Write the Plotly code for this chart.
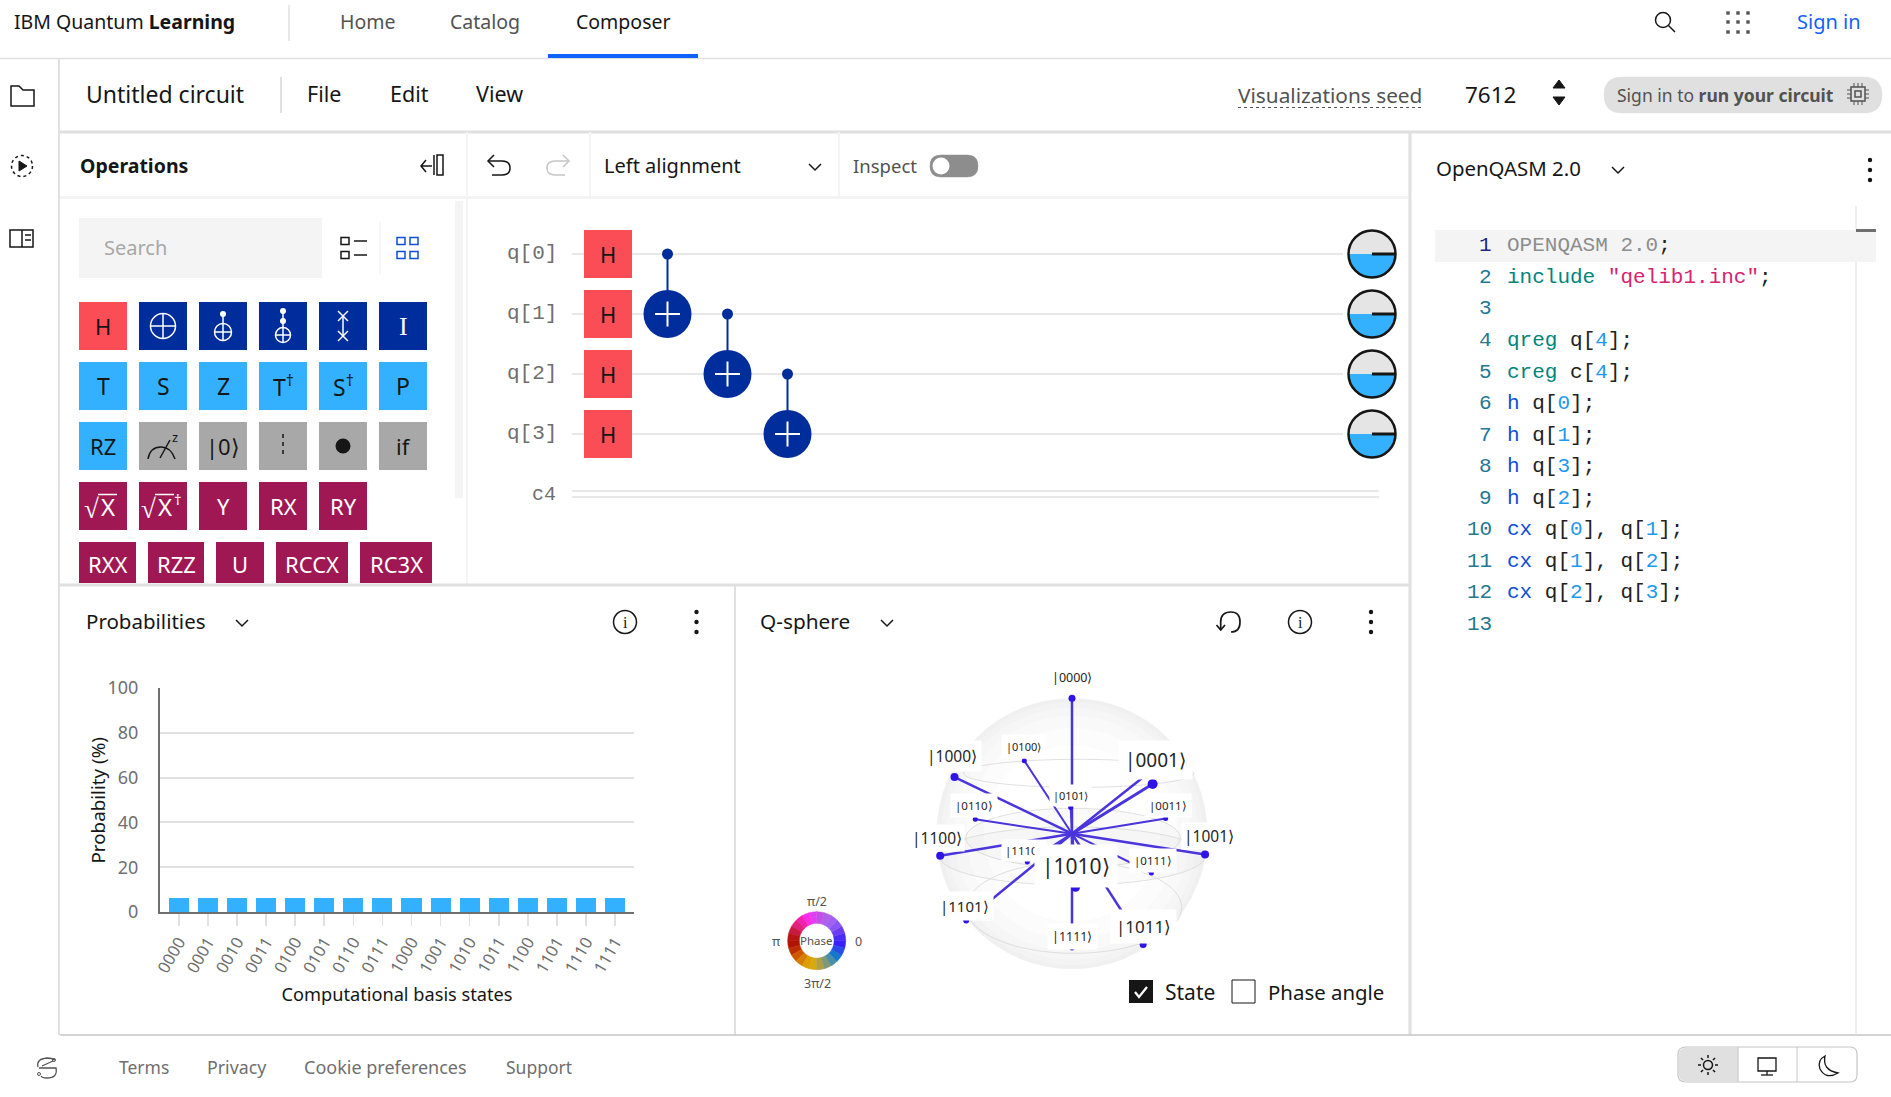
import numpy as np
import plotly.graph_objects as go

W, H = 1891, 1097
SANS = "Noto Sans"
MONO = "Liberation Mono"

# bar chart data
states = ["0000", "0001", "0010", "0011", "0100", "0101", "0110", "0111",
          "1000", "1001", "1010", "1011", "1100", "1101", "1110", "1111"]
probabilities = [6.25] * 16
y_ticks = [0, 20, 40, 60, 80, 100]

# q-sphere points, later states are drawn over earlier ones
qs_states = ["0000", "1000", "0100", "0010", "0001", "0101", "0110", "0011", "1100",
             "1001", "1110", "0111", "1101", "1111", "1011", "1010"]
qs_x = [0, -0.867, -0.352, 0.576, 0.595, -0.01, -0.714, 0.691, -0.973,
        0.982, -0.33, 0.586, -0.781, 0, 0.525, 0.026]
qs_y = [1.0, 0.418, 0.539, 0.457, 0.367, 0.194, 0.106, 0.113, -0.162,
        -0.153, -0.209, -0.29, -0.64, -0.844, -0.817, -0.396]

# phase wheel colours, counterclockwise from phase 0
phase_colors = ["#3a1fff", "#4a2af5", "#6a3cf0", "#8a55f0", "#a060f0", "#b060e8",
                "#c050e8", "#e040f0", "#fa2ce8", "#f020b0", "#e0207a", "#c81a40",
                "#b81414", "#b01400", "#bc3000", "#cc5800", "#d67e00", "#dc9e00",
                "#d8a80c", "#b0a040", "#809a78", "#4a8ea8", "#1478cc", "#2a4ce6"]

# circuit
qubits = ["q[0]", "q[1]", "q[2]", "q[3]"]
cnot_controls = [0, 1, 2]

# code panel
C_KW, C_OP, C_NUM, C_STR, C_TXT, C_OFF = "#00857c", "#0f4fd8", "#1e9af0", "#d6246e", "#222222", "#8d8d8d"
code_lines = [
    [("OPENQASM 2.0", C_OFF), (";", C_TXT)],
    [("include", C_KW), (" ", C_TXT), ('"qelib1.inc"', C_STR), (";", C_TXT)],
    [],
    [("qreg", C_KW), (" q[", C_TXT), ("4", C_NUM), ("];", C_TXT)],
    [("creg", C_KW), (" c[", C_TXT), ("4", C_NUM), ("];", C_TXT)],
    [("h", C_OP), (" q[", C_TXT), ("0", C_NUM), ("];", C_TXT)],
    [("h", C_OP), (" q[", C_TXT), ("1", C_NUM), ("];", C_TXT)],
    [("h", C_OP), (" q[", C_TXT), ("3", C_NUM), ("];", C_TXT)],
    [("h", C_OP), (" q[", C_TXT), ("2", C_NUM), ("];", C_TXT)],
    [("cx", C_OP), (" q[", C_TXT), ("0", C_NUM), ("], q[", C_TXT), ("1", C_NUM), ("];", C_TXT)],
    [("cx", C_OP), (" q[", C_TXT), ("1", C_NUM), ("], q[", C_TXT), ("2", C_NUM), ("];", C_TXT)],
    [("cx", C_OP), (" q[", C_TXT), ("2", C_NUM), ("], q[", C_TXT), ("3", C_NUM), ("];", C_TXT)],
    [],
]

RED, NAVY, SKY, GREY, WINE = "#fa4d56", "#002d9c", "#33b1ff", "#a8a8a8", "#9f1853"
BORDER = "#e0e0e0"
QS_SPAN = 1.4  # q-sphere axis half range, leaves room for the outer labels

shapes, notes = [], []


def rect(x0, y0, x1, y1, fill=None, line=None, w=1):
    shapes.append(dict(type="rect", xref="x2", yref="y2", x0=x0, y0=y0, x1=x1, y1=y1,
                       fillcolor=fill or "rgba(0,0,0,0)",
                       line=dict(color=line or "rgba(0,0,0,0)", width=w if line else 0)))


def seg(x0, y0, x1, y1, color=BORDER, w=2, dash=None):
    shapes.append(dict(type="line", xref="x2", yref="y2", x0=x0, y0=y0, x1=x1, y1=y1,
                       line=dict(color=color, width=w, dash=dash)))


def circ(cx, cy, r, fill=None, line=None, w=1.5, dash=None):
    shapes.append(dict(type="circle", xref="x2", yref="y2", x0=cx - r, y0=cy - r, x1=cx + r, y1=cy + r,
                       fillcolor=fill or "rgba(0,0,0,0)",
                       line=dict(color=line or "rgba(0,0,0,0)", width=w if line else 0, dash=dash)))


def path(d, color="#161616", w=1.5, fill=None):
    shapes.append(dict(type="path", xref="x2", yref="y2", path=d,
                       fillcolor=fill or "rgba(0,0,0,0)",
                       line=dict(color=color, width=w)))


def text(x, y, s, size=18, color="#161616", anchor="left", font=SANS, angle=0):
    notes.append(dict(xref="x2", yref="y2", x=x, y=y, text=s, showarrow=False,
                      xanchor=anchor, yanchor="middle", textangle=angle,
                      font=dict(family=font, size=size, color=color)))


def chevron(cx, cy, s=6, color="#161616"):
    path(f"M{cx - s} {cy - s / 2} L{cx} {cy + s / 2} L{cx + s} {cy - s / 2}", color, 1.5)


def kebab(cx, cy):
    for d in (-10, 0, 10):
        circ(cx, cy + d, 2.2, fill="#161616")


def info(cx, cy):
    circ(cx, cy, 11.5, line="#161616", w=1.5)
    text(cx, cy, "i", 16, font="Liberation Serif", anchor="center")


def undo(cx, cy, color="#161616", flip=1):
    f = flip
    path(f"M{cx - 10 * f} {cy - 5} L{cx + 3 * f} {cy - 5} Q{cx + 11 * f} {cy - 5} {cx + 11 * f} {cy + 2} "
         f"Q{cx + 11 * f} {cy + 9} {cx + 3 * f} {cy + 9} L{cx - 7 * f} {cy + 9}", color, 1.5)
    path(f"M{cx - 5 * f} {cy - 11} L{cx - 11 * f} {cy - 5} L{cx - 5 * f} {cy + 1}", color, 1.5)


def half_disc(cx, cy, r, upper, fill):
    t = np.linspace(0, np.pi, 40)
    sgn = -1 if upper else 1
    pts = [f"{cx + r * np.cos(a):.2f} {cy + sgn * r * np.sin(a):.2f}" for a in t]
    shapes.append(dict(type="path", xref="x2", yref="y2", path="M" + " L".join(pts) + " Z",
                       fillcolor=fill, line=dict(width=0)))


def plus_circle(cx, cy, r, fg="#ffffff", w=1.5):
    circ(cx, cy, r, line=fg, w=w)
    seg(cx - r, cy, cx + r, cy, fg, w)
    seg(cx, cy - r, cx, cy + r, fg, w)


# page frame
seg(0, 58.5, W, 58.5, BORDER, 1.5)
seg(59, 58, 59, 1035, BORDER, 2)
seg(60, 132, W, 132, BORDER, 3)
seg(60, 197.5, 1410, 197.5, "#f4f4f4", 3)
seg(467, 132, 467, 584, "#f4f4f4", 2)
seg(590, 132, 590, 197, "#f4f4f4", 2)
seg(839, 132, 839, 197, "#f4f4f4", 2)
seg(1410, 132, 1410, 1035, BORDER, 3)
seg(60, 585, 1410, 585, BORDER, 3)
seg(735, 585, 735, 1035, BORDER, 2)
seg(60, 1035, W, 1035, "#c6c6c6", 1.5)
seg(1856, 206, 1856, 1035, BORDER, 1)

# top header
text(12, 21.5, "IBM Quantum <b>Learning</b>", 19.5)
seg(289, 5, 289, 41, BORDER, 1.5)
text(367, 21.5, "Home", 19.5, "#525252", "center")
text(485, 21.5, "Catalog", 19.5, "#525252", "center")
text(623, 21.5, "Composer", 19.5, "#161616", "center")
rect(548, 54, 698, 58, fill="#0f62fe")
circ(1663, 20, 7.5, line="#161616", w=1.5)
seg(1668.5, 25.5, 1675, 32, "#161616", 1.5)
for gx in (1728, 1738, 1748):
    for gy in (13, 22, 32):
        rect(gx - 1.7, gy - 1.7, gx + 1.7, gy + 1.7, fill="#525252")
text(1829, 21.5, "Sign in", 20, "#0f62fe", "center")

# toolbar
text(84, 93.5, "Untitled circuit", 23)
seg(281, 77, 281, 113, BORDER, 2)
text(324, 93.5, "File", 21.5, anchor="center")
text(409, 93.5, "Edit", 21.5, anchor="center")
text(499, 93.5, "View", 21.5, anchor="center")
text(1330, 95, "Visualizations seed", 20.8, "#525252", "center")
seg(1238, 107.5, 1423, 107.5, "#525252", 1, "dot")
text(1490, 94, "7612", 22.5, anchor="center")
path("M1553 88 L1565 88 L1559 80 Z", "#161616", 1, "#161616")
path("M1553 97 L1565 97 L1559 105 Z", "#161616", 1, "#161616")
path("M1622 77 L1864 77 Q1882 77 1882 95 Q1882 113 1864 113 L1622 113 Q1604 113 1604 95 Q1604 77 1622 77 Z",
     BORDER, 0.5, BORDER)
text(1615, 94.5, "Sign in to <b>run your circuit</b>", 17.5, "#525252")
for d in (-4, 0, 4):
    seg(1847, 94 + d, 1869, 94 + d, "#525252", 1)
    seg(1858 + d, 83, 1858 + d, 105, "#525252", 1)
rect(1851, 87, 1865, 101, fill=BORDER, line="#525252", w=1.5)
rect(1855, 91, 1861, 97, line="#525252", w=1.5)

# side icons
path("M11 103 L11 86 L19 86 L23 90 L34 90 L34 106 L11 106 Z", "#161616", 1.5)
circ(22, 166, 10.5, line="#161616", w=1.5, dash="3px,3px")
path("M19 161 L27 166 L19 171 Z", "#161616", 1, "#161616")
path("M10 230 L33 230 L33 247 L10 247 Z M22 230 L22 247 M25 235 L31 235 M25 240 L31 240", "#161616", 1.5)

# operations panel
text(78, 165, "<b>Operations</b>", 19.5)
path("M421 166 L432 166 M426 160 L421 166 L426 172", "#161616", 1.5)
seg(434, 155, 434, 175, "#161616", 1.5)
rect(437, 155, 443, 175, line="#161616", w=1.5)
rect(79, 218, 322, 278, fill="#f4f4f4")
text(102, 247, "Search", 20, "#a8a8a8")
for iy in (241, 255):
    rect(341, iy - 3.5, 349, iy + 3.5, line="#161616", w=1.5)
    seg(354, iy, 367, iy, "#161616", 1.5)
seg(380, 222, 380, 274, "#f4f4f4", 1.5)
for ix in (401, 414):
    for iy in (241, 255):
        rect(ix - 4, iy - 3.5, ix + 4, iy + 3.5, line="#0f4fd8", w=1.5)
rect(455, 201, 463, 498, fill="#f4f4f4")


def gate(col, row, color):
    x, y = 79 + col * 60, 302 + row * 60
    rect(x, y, x + 48, y + 48, fill=color)
    return x + 24, y + 24


cx, cy = gate(0, 0, RED)
text(cx, cy, "H", 22, anchor="center")
cx, cy = gate(1, 0, NAVY)
plus_circle(cx, cy, 12.5)
cx, cy = gate(2, 0, NAVY)
plus_circle(cx, cy + 6, 8.5)
circ(cx, cy - 12, 3, fill="#ffffff")
seg(cx, cy - 12, cx, cy - 2, "#ffffff", 1.5)
cx, cy = gate(3, 0, NAVY)
plus_circle(cx, cy + 9, 7.5)
circ(cx, cy - 15, 3, fill="#ffffff")
circ(cx, cy - 5, 3, fill="#ffffff")
seg(cx, cy - 15, cx, cy + 1, "#ffffff", 1.5)
cx, cy = gate(4, 0, NAVY)
for sy in (-10, 10):
    seg(cx - 5, cy + sy - 5, cx + 5, cy + sy + 5, "#ffffff", 1.5)
    seg(cx - 5, cy + sy + 5, cx + 5, cy + sy - 5, "#ffffff", 1.5)
seg(cx, cy - 10, cx, cy + 10, "#ffffff", 1.5)
cx, cy = gate(5, 0, NAVY)
text(cx, cy, "I", 26, "#ffffff", "center", "Liberation Serif")

for col, lab in enumerate(["T", "S", "Z", "T<sup>†</sup>", "S<sup>†</sup>", "P"]):
    cx, cy = gate(col, 1, SKY)
    text(cx, cy, lab, 23, anchor="center")
cx, cy = gate(0, 2, SKY)
text(cx, cy, "RZ", 22, anchor="center")
cx, cy = gate(1, 2, GREY)
path(f"M{cx - 15} {cy + 13} Q{cx - 13} {cy + 1} {cx - 2} {cy + 1} Q{cx + 8} {cy + 1} {cx + 12} {cy + 13}", "#161616", 1.5)
seg(cx - 3, cy + 12, cx + 7, cy - 6, "#161616", 1.5)
text(cx + 12, cy - 9, "z", 13, anchor="center")
cx, cy = gate(2, 2, GREY)
text(cx, cy, "|0⟩", 22, anchor="center")
cx, cy = gate(3, 2, GREY)
seg(cx, cy - 12, cx, cy + 12, "#161616", 1.5, "4px,4px")
cx, cy = gate(4, 2, GREY)
circ(cx, cy, 7.5, fill="#161616")
cx, cy = gate(5, 2, GREY)
text(cx, cy, "if", 22, anchor="center")
for col, lab in enumerate(["", "", "Y", "RX", "RY"]):
    cx, cy = gate(col, 3, WINE)
    if lab:
        text(cx, cy, lab, 22, "#ffffff", "center")
text(91.5, 507, "√", 27, "#ffffff", "center")
text(107.5, 506.5, "X", 24, "#ffffff", "center")
seg(98, 494.5, 117, 494.5, "#ffffff", 1.5)
text(148.5, 507, "√", 27, "#ffffff", "center")
text(165, 506.5, "X", 24, "#ffffff", "center")
seg(155, 494.5, 174, 494.5, "#ffffff", 1.5)
text(178, 499, "†", 15, "#ffffff", "center")
for lab, x0, x1 in [("RXX", 79, 136), ("RZZ", 148, 204), ("U", 216, 264), ("RCCX", 276, 348), ("RC3X", 360, 432)]:
    rect(x0, 542, x1, 583, fill=WINE)
    text((x0 + x1) / 2, 564, lab, 22, "#ffffff", "center")

# circuit toolbar
undo(499, 166)
undo(558, 166, "#c6c6c6", -1)
text(602, 165, "Left alignment", 20)
chevron(815, 167)
text(851, 165, "Inspect", 18.5, "#525252")
path("M941 155 L967 155 Q978 155 978 166 Q978 177 967 177 L941 177 Q930 177 930 166 Q930 155 941 155 Z",
     "#8d8d8d", 0.5, "#8d8d8d")
circ(941, 166, 8.5, fill="#ffffff")

# circuit
WIRE_Y0, WIRE_STEP = 254, 60
for i, q in enumerate(qubits):
    wy = WIRE_Y0 + i * WIRE_STEP
    seg(572, wy, 1343, wy, "#e8e8e8", 2)
    text(558.5, wy - 1, q, 21, "#6f6f6f", "right", MONO)
    rect(584, wy - 24, 632, wy + 24, fill=RED)
    text(608, wy, "H", 22, anchor="center")
    half_disc(1372, wy, 23.5, True, "#e5e5e5")
    half_disc(1372, wy, 23.5, False, SKY)
    circ(1372, wy, 23.5, line="#161616", w=2.5)
    seg(1372, wy, 1395, wy, "#161616", 3)
for i in cnot_controls:
    gx = 667.5 + i * 60
    c_y, t_y = WIRE_Y0 + i * WIRE_STEP, WIRE_Y0 + (i + 1) * WIRE_STEP
    seg(gx, c_y, gx, t_y, NAVY, 2)
    circ(gx, c_y, 5.5, fill=NAVY)
    circ(gx, t_y, 24, fill=NAVY)
    seg(gx - 12.5, t_y, gx + 12.5, t_y, "#ffffff", 2)
    seg(gx, t_y - 12.5, gx, t_y + 12.5, "#ffffff", 2)
seg(572, 491, 1379, 491, "#e8e8e8", 2)
seg(572, 497, 1379, 497, "#e8e8e8", 2)
text(558, 494, "c4", 20, "#6f6f6f", "right", MONO)

# panel headers
text(84, 621, "Probabilities", 20.5)
chevron(242, 623)
info(625, 622)
kebab(696.5, 622)
text(758, 621, "Q-sphere", 20.8)
chevron(887, 623)
path("M1220.7 630 L1220.7 622 Q1220.7 612 1231 612 Q1240 612 1240 622 Q1240 632 1231 632", "#161616", 1.7)
path("M1216.5 625 L1220.7 630 L1225 625", "#161616", 1.7)
info(1300, 622)
kebab(1371, 622)
text(1434, 168, "OpenQASM 2.0", 20.4)
chevron(1618, 170)
kebab(1870, 170)

# bar chart y title, placed by hand because the axis title cannot sit that close to the labels
text(97.5, 801, "Probability (%)", 18.8, "#161616", "center", angle=-90)

# q-sphere check boxes
rect(1129, 980, 1153, 1003, fill="#161616")
path("M1135 992 L1139 997 L1147 987", "#ffffff", 2.2)
text(1163, 992, "State", 21)
rect(1232, 980, 1255, 1003, line="#161616", w=1)
text(1266, 992, "Phase angle", 20.4)

# phase wheel labels
text(817, 901, "π/2", 12.5, "#525252", "center")
text(817, 983, "3π/2", 12.5, "#525252", "center")
text(776, 941, "π", 12.5, "#525252", "center")
text(858, 941, "0", 12.5, "#525252", "center")
text(816.7, 940.7, "Phase", 11.5, "#525252", "center")

# code
rect(1435, 230, 1876, 262, fill="#f4f4f4")
rect(1856, 229, 1876, 232, fill="#6f6f6f")
for n, parts in enumerate(code_lines):
    ly = 245.8 + n * 31.55
    text(1493.5, ly, str(n + 1), 21, "#1c2a85" if n == 0 else "#237893", "right", MONO)
    if parts:
        html = "".join(f'<span style="color:{c}">{s}</span>' for s, c in parts)
        text(1505, ly, html, 21, C_TXT, "left", MONO)

# footer
text(117, 1067, "Terms", 17.5, "#6f6f6f")
text(205, 1067, "Privacy", 17.8, "#6f6f6f")
text(302, 1067, "Cookie preferences", 18, "#6f6f6f")
text(504, 1067, "Support", 17.5, "#6f6f6f")
path("M38 1067 Q36 1059 47 1058 Q52 1058 55 1060", "#525252", 1.3)
path("M39 1068 L56 1068 Q58 1078 47 1078 Q42 1078 41 1076", "#525252", 1.3)
seg(42, 1066, 53, 1061, "#525252", 1.3)
circ(39, 1074, 1.5, line="#525252", w=1)
circ(54, 1060, 1.5, line="#525252", w=1)
path("M1686 1048 L1738 1048 L1738 1081 L1686 1081 Q1679 1081 1679 1074 L1679 1055 Q1679 1048 1686 1048 Z",
     BORDER, 0.5, BORDER)
path("M1686 1047 L1850 1047 Q1857 1047 1857 1054 L1857 1075 Q1857 1082 1850 1082 L1686 1082 Q1678 1082 1678 1075 "
     "L1678 1054 Q1678 1047 1686 1047 Z", "#c6c6c6", 1.2)
seg(1738, 1047, 1738, 1082, "#c6c6c6", 1)
seg(1797, 1047, 1797, 1082, "#c6c6c6", 1)
circ(1708, 1065, 4.5, line="#161616", w=1.5)
for a in np.arange(0, 2 * np.pi, np.pi / 4):
    seg(1708 + 7 * np.cos(a), 1065 + 7 * np.sin(a), 1708 + 10 * np.cos(a), 1065 + 10 * np.sin(a), "#161616", 1.5)
rect(1758, 1058, 1776, 1071, line="#161616", w=1.3)
seg(1767, 1071, 1767, 1075, "#161616", 1.3)
seg(1761, 1075, 1773, 1075, "#161616", 1.3)
path("M1825 1056 Q1822 1070 1838 1073 Q1826 1080 1820 1069 Q1817 1060 1825 1056 Z", "#161616", 1.3)


def px_x(x0, x1):
    return [x0 / W, x1 / W]


def px_y(y0, y1):
    return [1 - y1 / H, 1 - y0 / H]


fig = go.Figure()
fig.add_trace(go.Bar(x=states, y=probabilities, width=0.69, marker=dict(color=SKY, line=dict(width=0)),
                     hoverinfo="skip", showlegend=False, xaxis="x", yaxis="y"))
fig.add_trace(go.Scatter(x=[None], y=[None], xaxis="x2", yaxis="y2", hoverinfo="skip", showlegend=False))

# q-sphere look per state: marker size, spoke width, label x, y, font size, box padding
qs_look = {
    "0000": (7, 2.5, 0, 1.151, 12.5, 3),
    "1000": (8, 2.5, -0.885, 0.572, 15.5, 4),
    "0100": (5, 2, -0.355, 0.644, 11, 4),
    "0010": (6, 2.5, None, None, None, None),  # its label sits behind |0001⟩
    "0001": (10, 3, 0.618, 0.541, 19, 6),
    "0101": (5, 2, -0.013, 0.281, 11, 3),
    "0110": (5, 2, -0.726, 0.209, 11.5, 4),
    "0011": (5, 2, 0.71, 0.209, 11.5, 4),
    "1100": (8, 2.5, -1.0, -0.034, 15.5, 2),
    "1001": (8, 2.5, 1.008, -0.02, 15.5, 2),
    "1110": (5, 2, -0.352, -0.125, 11.5, 3),
    "0111": (5, 2, 0.598, -0.2, 11.5, 4),
    "1101": (6, 2.5, -0.794, -0.532, 15, 4),
    "1111": (5, 2.5, 0, -0.757, 12.5, 4),
    "1011": (7, 2.5, 0.53, -0.687, 17, 5),
    "1010": (9, 3, 0.029, -0.236, 21, 7),
}
for st, qx, qy in zip(qs_states, qs_x, qs_y):
    ms, lw, lx, ly, fs, pad = qs_look[st]
    fig.add_trace(go.Scatter(x=[0, qx], y=[0.0, qy], mode="lines", xaxis="x3", yaxis="y3",
                             line=dict(color="#4a34dc", width=lw), hoverinfo="skip",
                             showlegend=False, cliponaxis=False))
    fig.add_trace(go.Scatter(x=[qx], y=[qy], mode="markers", xaxis="x3", yaxis="y3",
                             marker=dict(color="#2f14ea", size=ms, line=dict(width=0)),
                             hoverinfo="skip", showlegend=False, cliponaxis=False))
    if fs:
        notes.append(dict(xref="x3", yref="y3", x=lx, y=ly, text=f"|{st}⟩",
                          showarrow=False, bgcolor="#ffffff", borderpad=pad,
                          font=dict(family=SANS, size=fs, color="#262626")))

# sphere shading and latitude rings sit under the spokes
for r, c in [(1.0, "#f0f0f0"), (0.97, "#f3f3f3"), (0.93, "#f6f6f6"), (0.87, "#f9f9f9"), (0.78, "#fcfcfc"), (0.65, "#ffffff")]:
    shapes.append(dict(type="circle", xref="x3", yref="y3", x0=-r, x1=r, y0=-r, y1=r, layer="below",
                       fillcolor=c, line=dict(width=0)))
for x0, x1, y0, y1, fc in [(-0.8, 0.9, 0.342, 0.549, "rgba(0,0,0,0)"),
                           (-0.784, 0.8, -0.25, 0.187, "rgba(0,0,0,0.02)"),
                           (-0.98, 0.985, -0.38, 0.05, "rgba(0,0,0,0.015)"),
                           (-0.78, 0.81, -0.883, -0.207, "rgba(0,0,0,0)")]:
    shapes.append(dict(type="circle", xref="x3", yref="y3", x0=x0, x1=x1, y0=y0, y1=y1, layer="below",
                       fillcolor=fc, line=dict(color="#d8d8d8", width=0.8)))

# phase wheel
fig.add_trace(go.Pie(values=[1] * len(phase_colors), sort=False, direction="counterclockwise", rotation=90,
                     hole=0.6, textinfo="none", hoverinfo="skip", showlegend=False,
                     marker=dict(colors=phase_colors, line=dict(color=phase_colors, width=0.5)),
                     domain=dict(x=px_x(787.7, 845.7), y=px_y(911.7, 969.7))))

QS_PX = 135.5 * QS_SPAN
fig.update_layout(
    template="none",
    width=W, height=H, margin=dict(l=0, r=0, t=0, b=0, pad=0, autoexpand=False), autosize=False,
    paper_bgcolor="#ffffff", plot_bgcolor="rgba(0,0,0,0)", showlegend=False,
    bargap=0, shapes=shapes, annotations=notes,
    font=dict(family=SANS, color="#161616"),
    xaxis=dict(domain=px_x(160, 634), anchor="y", type="category", range=[-0.646, 15.65], automargin=False,
               categoryorder="array", categoryarray=states, showgrid=False, zeroline=False,
               showline=True, linecolor="#6f6f6f", linewidth=2,
               ticks="outside", ticklen=12, tickwidth=1.5, tickcolor=BORDER,
               tickangle=-60, tickfont=dict(family=SANS, size=16.5, color="#6f6f6f"),
               title=dict(text="Computational basis states", standoff=12,
                          font=dict(family=SANS, size=18.2, color="#161616"))),
    yaxis=dict(domain=px_y(688, 912), anchor="x", range=[0, 100], tickvals=y_ticks, automargin=False,
               showgrid=True, gridcolor=BORDER, gridwidth=2, zeroline=False,
               showline=True, linecolor="#6f6f6f", linewidth=2,
               ticks="", ticklabelstandoff=16, tickfont=dict(family=SANS, size=18, color="#6f6f6f")),
    xaxis2=dict(domain=[0, 1], range=[0, W], visible=False, fixedrange=True, anchor="y2"),
    yaxis2=dict(domain=[0, 1], range=[H, 0], visible=False, fixedrange=True, anchor="x2"),
    xaxis3=dict(domain=px_x(1072 - QS_PX, 1072 + QS_PX), range=[-QS_SPAN, QS_SPAN], visible=False,
                fixedrange=True, anchor="y3"),
    yaxis3=dict(domain=px_y(833.7 - QS_PX, 833.7 + QS_PX), range=[-QS_SPAN, QS_SPAN], visible=False,
                fixedrange=True, anchor="x3"),
)

fig.write_html("out.html", config={"displayModeBar": False, "staticPlot": True},
               post_script="document.body.style.margin='0';")
